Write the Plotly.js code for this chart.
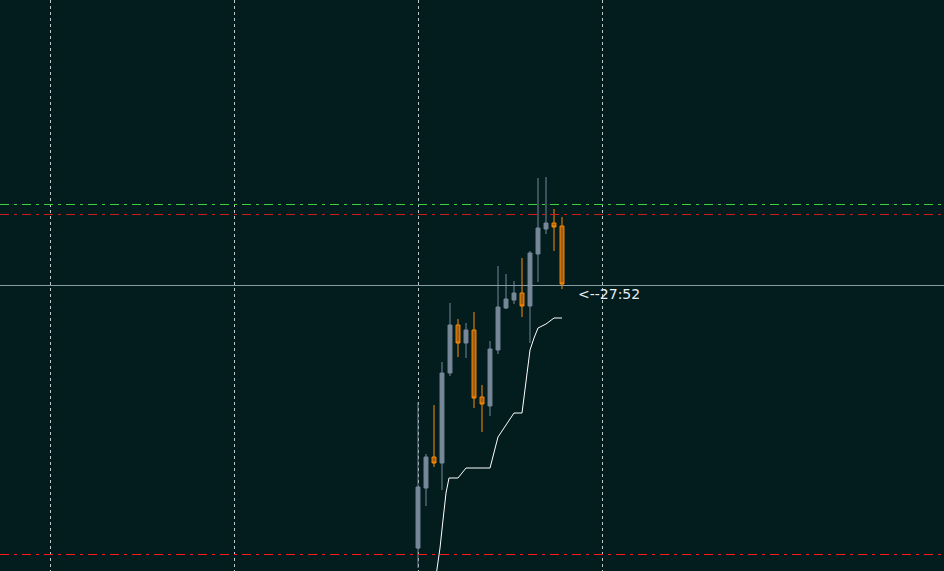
<!DOCTYPE html>
<html>
<head>
<meta charset="utf-8">
<script src="https://cdn.plot.ly/plotly-3.0.1.min.js"></script>
<style>
html,body{margin:0;padding:0;background:#031c1e;}
#chart{width:944px;height:571px;}
</style>
</head>
<body>
<div id="chart"></div>
<script>
// Candle index (bar number) and OHLC values (price in points)
var barIndex = [0,1,2,3,4,5,6,7,8,9,10,11,12,13,14,15,16,17,18];
var openVals  = [23, 83,114,108,198,246,228,241,174,165,221,263,271,278,265,317,342,348,345];
var highVals  = [169,117,166,209,268,252,248,259,186,230,305,297,290,313,320,393,394,362,354];
var lowVals   = [3,  65,104, 81,195,214,213,163,139,155,217,262,267,254,228,289,337,320,282];
var closeVals = [84,114,108,198,246,228,241,173,167,222,264,272,278,265,318,343,348,344,287];

// Indicator line (white)
var lineX = [2.25,2.75,3.125,3.5,3.875,5,5.5,6,9,9.5,10,10.5,11,11.5,12,13,13.5,14,14.5,15,16,16.5,17,18];
var lineY = [-5,23,51,78,93,93,98,103,103,119,134,140,146,153,158,158,188,221,233,243,247,250,253,253];

// Vertical grid (period separators), in bar index
var gridBars = [-46,-23,0,23];

// Horizontal levels
var levelGreen = 366.5;
var levelRed1 = 356.5;
var levelBid = 285.5;
var levelRed2 = 16.5;

// Timer label
var timerText = "<--27:52";
var timerX = 19.75;
var timerY = 277;

var traces = [
  {
    type: 'candlestick',
    x: barIndex, open: openVals, high: highVals, low: lowVals, close: closeVals,
    increasing: {line: {color: '#778899', width: 1}, fillcolor: '#778899'},
    decreasing: {line: {color: '#ff8c00', width: 1}, fillcolor: '#a35d10'},
    whiskerwidth: 0,
    width: 0.6,
    hoverinfo: 'skip',
    showlegend: false
  },
  {
    type: 'scatter', mode: 'lines',
    x: lineX, y: lineY,
    line: {color: '#ffffff', width: 1},
    hoverinfo: 'skip', showlegend: false
  }
];

function hline(y, color, dash, width) {
  return {type: 'line', xref: 'paper', x0: 0, x1: 1, yref: 'y', y0: y, y1: y,
          line: {color: color, width: width || 1, dash: dash}, layer: 'above'};
}

var layout = {
  width: 944, height: 571,
  margin: {l: 0, r: 0, t: 0, b: 0, pad: 0},
  paper_bgcolor: '#031c1e',
  plot_bgcolor: '#031c1e',
  showlegend: false,
  xaxis: {
    range: [-52.25, 65.75],
    showgrid: true, gridcolor: '#c0c8c8', gridwidth: 1, griddash: '3px,3px',
    tickmode: 'array', tickvals: gridBars,
    showticklabels: false, zeroline: false, showline: false, ticks: '',
    rangeslider: {visible: false}, fixedrange: true
  },
  yaxis: {
    range: [0, 571],
    showgrid: false, showticklabels: false, zeroline: false, showline: false, ticks: '',
    fixedrange: true
  },
  shapes: [
    hline(levelGreen, '#3ad43a', '9px,5px,3px,5px'),
    hline(levelRed1, '#c81e1e', '9px,5px,3px,5px'),
    hline(levelBid, '#8a9aa4', 'solid'),
    hline(levelRed2, '#ff1a1a', '9px,5px,3px,5px')
  ],
  annotations: [{
    x: timerX, y: timerY, xref: 'x', yref: 'y',
    text: timerText, showarrow: false, xanchor: 'left', yanchor: 'middle',
    font: {family: 'DejaVu Sans', size: 14, color: '#e6eef5'}
  }]
};

Plotly.newPlot('chart', traces, layout, {staticPlot: true, displayModeBar: false});
</script>
</body>
</html>
